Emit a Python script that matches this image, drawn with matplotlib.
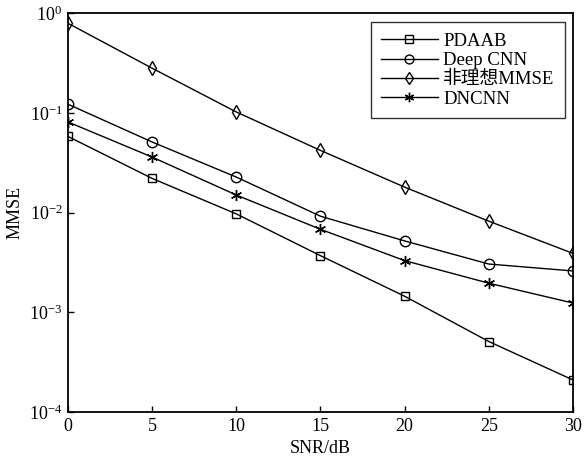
import matplotlib
matplotlib.use("Agg")
import matplotlib.pyplot as plt
import numpy as np

plt.rcParams['font.family'] = ['Liberation Serif', 'Noto Sans CJK SC']
plt.rcParams['mathtext.fontset'] = 'stix'

snr = [0, 5, 10, 15, 20, 25, 30]
pdaab = [0.058, 0.022, 0.0097, 0.0037, 0.00145, 0.00051, 0.00021]
deep_cnn = [0.122, 0.051, 0.0227, 0.0092, 0.0052, 0.00305, 0.0026]
mmse = [0.79, 0.28, 0.102, 0.042, 0.018, 0.0082, 0.0039]
dncnn = [0.081, 0.036, 0.015, 0.0068, 0.0033, 0.00196, 0.00124]

series = [
	("PDAAB", pdaab, "s", 6),
	("Deep CNN", deep_cnn, "o", 7.5),
	("非理想MMSE", mmse, "d", 7.5),
	("DNCNN", dncnn, (6, 2, 0), 8),
]

fig = plt.figure(figsize=(5.84, 4.62), dpi=100)
ax = fig.add_axes([0.1164, 0.108, 0.8647, 0.8637])

for name, vals, mk, ms in series:
	ax.plot(snr, vals, color="black", lw=1.0, marker=mk, markersize=ms,
		markerfacecolor="none", markeredgecolor="black", markeredgewidth=1.0,
		label=name)

ax.set_yscale("log")
ax.set_xlim(0, 30)
ax.set_ylim(1e-4, 1e0)
ax.set_xticks(snr)
ax.set_yticks([1e-4, 1e-3, 1e-2, 1e-1, 1e0])
ax.yaxis.set_minor_locator(matplotlib.ticker.NullLocator())
ax.tick_params(direction="in", length=4, width=1, labelsize=13, pad=4)
for s in ax.spines.values():
	s.set_linewidth(1.3)
ax.set_xlabel("SNR/dB", fontsize=13, labelpad=4)
ax.set_ylabel("MMSE", fontsize=13, labelpad=4)

leg = ax.legend(loc="upper right", bbox_to_anchor=(0.984, 0.977), fontsize=13.5,
	frameon=True, fancybox=False, edgecolor="black", handlelength=3.0,
	labelspacing=0.12, borderpad=0.55, handletextpad=0.3, markerscale=0.85,
	borderaxespad=0)
leg.get_frame().set_linewidth(1.0)

fig.savefig("out.png", dpi=100)
